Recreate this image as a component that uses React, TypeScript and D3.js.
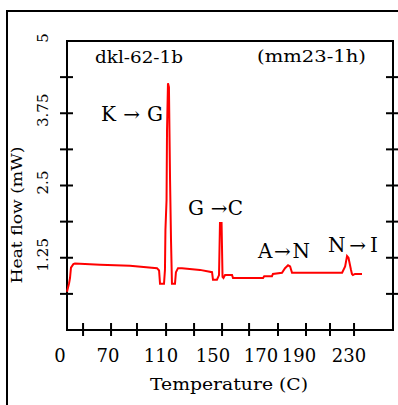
import React, { useEffect, useRef } from 'react';
import * as d3 from 'd3';

// DSC trace: temperature (C) vs heat flow (mW)
const temps = [
  50, 51.3, 51.9, 52.5, 54, 55, 70.8, 89.6, 106.6, 107.9, 108.5, 111.0, 111.6, 111.9,
  112.6, 112.9, 113.5, 114.1, 114.8, 115.4, 116.0, 117.9, 118.5, 119.8, 122.3, 133.6,
  141.2, 141.8, 144.3, 145.6, 146.2, 147.2, 147.8, 148.4, 149.4, 153.8, 154.4, 173.3,
  174.0, 178.9, 179.5, 185.2, 187.1, 189.0, 190.3, 191.5, 223.0, 224.9, 226.1, 227.0,
  228.5, 229.2, 229.8, 231.1, 235.5,
];
const heatFlow = [
  0.66, 0.81, 0.9, 1.08, 1.14, 1.15, 1.13, 1.11, 1.07, 1.03, 0.8, 0.8, 1.04, 1.73,
  2.25, 3.46, 4.27, 4.2, 2.6, 1.56, 0.8, 0.8, 1.0, 1.07, 1.07, 1.04,
  1.0, 0.87, 0.87, 0.95, 1.85, 1.85, 0.92, 0.9, 0.95, 0.95, 0.9, 0.9,
  0.93, 0.93, 0.97, 0.99, 1.07, 1.12, 1.1, 0.99, 0.99, 1.1, 1.28, 1.25,
  1.05, 0.97, 0.95, 0.97, 0.97,
];

const yTicks = [0, 0.625, 1.25, 1.875, 2.5, 3.125, 3.75, 4.375, 5];
const yTickLabels = ['1.25', '2.5', '3.75', '5'];
const xTicks = [60.1, 77.7, 94.0, 112.3, 129.9, 147.5, 164.5, 182.7, 200.3, 215.4, 230.5];
const xTickLabels = ['0', '70', '110', '150', '170', '190', '230'];
const xTickLabelAt = [45.6, 75.8, 109.1, 141.8, 172.0, 195.9, 227.3];

const transitions = ['K\u2192G', 'G \u2192C', 'A\u2192N', 'N\u2192I'];
const transitionAt = [71.4, 126.1, 170.1, 214.1]; // left edge, in temperature units
const transitionY = [3.62, 1.99, 1.25, 1.35];
const transitionWidth = [62, 55, 52, 50];

const App = () => {
  const svgRef = useRef(null);
  const width = 398;
  const height = 405;
  const margin = { top: 41, right: 5, bottom: 75, left: 67 };
  const font = '"DejaVu Serif", serif';

  useEffect(() => {
    const svg = d3.select(svgRef.current);
    svg.selectAll('*').remove();

    const x = d3.scaleLinear().domain([50, 255]).range([margin.left, width - margin.right]);
    const y = d3.scaleLinear().domain([0, 5]).range([height - margin.bottom, margin.top]);

    // outer frame
    svg.append('rect')
      .attr('x', 7).attr('y', 11)
      .attr('width', width + 10).attr('height', height + 10)
      .attr('fill', 'white').attr('stroke', '#000').attr('stroke-width', 2);

    // plot box
    svg.append('rect')
      .attr('x', x(50)).attr('y', y(5))
      .attr('width', x(255) - x(50)).attr('height', y(0) - y(5))
      .attr('fill', 'none').attr('stroke', '#000').attr('stroke-width', 2);

    // y ticks on both sides
    [x(50), x(255)].forEach(px => {
      svg.append('g').selectAll('line')
        .data(yTicks.slice(1, -1))
        .enter().append('line')
        .attr('x1', px - 7).attr('x2', px + 6)
        .attr('y1', d => y(d)).attr('y2', d => y(d))
        .attr('stroke', '#000').attr('stroke-width', 2);
    });

    // x ticks
    svg.append('g').selectAll('line')
      .data(xTicks)
      .enter().append('line')
      .attr('x1', d => x(d)).attr('x2', d => x(d))
      .attr('y1', y(0) - 7).attr('y2', y(0) + 6)
      .attr('stroke', '#000').attr('stroke-width', 2);

    // x tick labels
    svg.append('g').selectAll('text')
      .data(xTickLabels)
      .enter().append('text')
      .attr('x', (d, i) => x(xTickLabelAt[i]))
      .attr('y', 362)
      .attr('text-anchor', 'middle')
      .attr('font-family', font).attr('font-size', 18)
      .text(d => d);

    // y tick labels (rotated)
    svg.append('g').selectAll('text')
      .data(yTickLabels)
      .enter().append('text')
      .attr('transform', d => `translate(48, ${y(+d) - 3}) rotate(-90)`)
      .attr('text-anchor', 'middle')
      .attr('font-family', font).attr('font-size', 15)
      .text(d => d);

    // axis titles
    svg.append('text')
      .attr('x', 229).attr('y', 390)
      .attr('text-anchor', 'middle')
      .attr('font-family', font).attr('font-size', 17)
      .attr('textLength', 158).attr('lengthAdjust', 'spacingAndGlyphs')
      .text('Temperature (C)');

    svg.append('text')
      .attr('transform', 'translate(22, 215) rotate(-90)')
      .attr('text-anchor', 'middle')
      .attr('font-family', font).attr('font-size', 15)
      .attr('textLength', 137).attr('lengthAdjust', 'spacingAndGlyphs')
      .text('Heat flow (mW)');

    // sample labels
    svg.append('text')
      .attr('x', 95).attr('y', 63)
      .attr('font-family', font).attr('font-size', 17)
      .attr('textLength', 88).attr('lengthAdjust', 'spacingAndGlyphs')
      .text('dkl-62-1b');
    svg.append('text')
      .attr('x', 257).attr('y', 62)
      .attr('font-family', font).attr('font-size', 17)
      .attr('textLength', 109).attr('lengthAdjust', 'spacingAndGlyphs')
      .text('(mm23-1h)');

    // transition labels
    svg.append('g').selectAll('text')
      .data(transitions)
      .enter().append('text')
      .attr('x', (d, i) => x(transitionAt[i]))
      .attr('y', (d, i) => y(transitionY[i]))
      .attr('font-family', font).attr('font-size', 20)
      .attr('textLength', (d, i) => transitionWidth[i]).attr('lengthAdjust', 'spacing')
      .text(d => d);

    // trace
    const line = d3.line()
      .x(d => x(d[0]))
      .y(d => y(d[1]));

    svg.append('path')
      .datum(temps.map((t, i) => [t, heatFlow[i]]))
      .attr('fill', 'none')
      .attr('stroke', '#ff0000')
      .attr('stroke-width', 2)
      .attr('d', line);
  }, []);

  return (
    <svg ref={svgRef} width={width} height={height}
      style={{ position: 'absolute', left: 0, top: 0, background: 'white' }} />
  );
};

export default App;
